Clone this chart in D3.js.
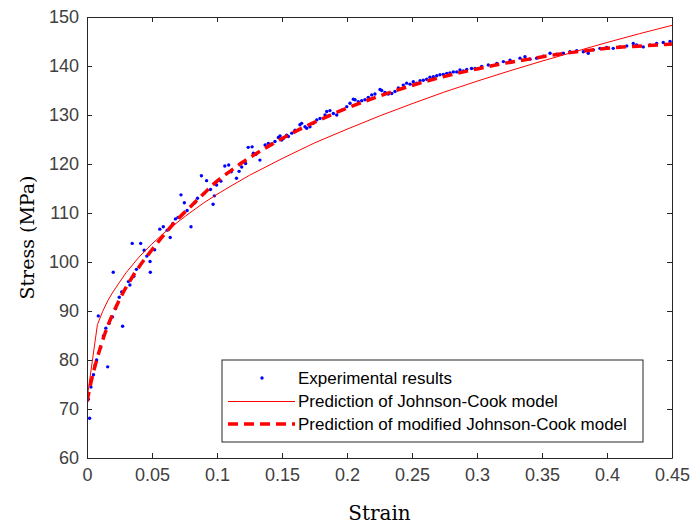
<!DOCTYPE html>
<html>
<head>
<meta charset="utf-8">
<script src="https://cdn.jsdelivr.net/npm/d3@7"></script>
<style>
  html, body { margin: 0; padding: 0; background: #fff; }
  svg { display: block; }
</style>
</head>
<body>
<svg id="chart" width="693" height="529"></svg>
<script>
// ---- Data ----
const xTicks = [0, 0.05, 0.1, 0.15, 0.2, 0.25, 0.3, 0.35, 0.4, 0.45];
const xTickLabels = ["0", "0.05", "0.1", "0.15", "0.2", "0.25", "0.3", "0.35", "0.4", "0.45"];
const yTicks = [60, 70, 80, 90, 100, 110, 120, 130, 140, 150];
const yTickLabels = ["60", "70", "80", "90", "100", "110", "120", "130", "140", "150"];

const expStrain = [
  0.001, 0.002, 0.003, 0.005, 0.0062, 0.0074, 0.0087, 0.0105, 0.0126, 0.0145, 0.0159, 0.017,
  0.0196, 0.0202, 0.022, 0.0248, 0.0267, 0.0274, 0.0318, 0.033, 0.0348, 0.036, 0.038, 0.0413,
  0.044, 0.046, 0.0485, 0.0487, 0.052, 0.056, 0.0587, 0.0617, 0.064, 0.066, 0.068, 0.070,
  0.0723, 0.0749, 0.077, 0.080, 0.083, 0.085, 0.088, 0.090, 0.092, 0.095, 0.097, 0.098,
  0.0997, 0.103, 0.106, 0.109, 0.111, 0.115, 0.117, 0.119, 0.122, 0.124, 0.127, 0.128,
  0.130, 0.133, 0.137, 0.1395, 0.142, 0.1446, 0.1472, 0.1485, 0.1498, 0.151, 0.1536, 0.1549,
  0.1575, 0.160, 0.1638, 0.1651, 0.1677, 0.169, 0.1715, 0.1741, 0.1767, 0.1792, 0.1831, 0.1844,
  0.1869, 0.1895, 0.1921, 0.1959, 0.1998, 0.2023, 0.2049, 0.2062, 0.2087, 0.2113, 0.2138, 0.2164,
  0.219, 0.2215, 0.2254, 0.2267, 0.2292, 0.2318, 0.2344, 0.2369, 0.2395, 0.2433, 0.2459, 0.2485,
  0.251, 0.2536, 0.2562, 0.2587, 0.2613, 0.2638, 0.2664, 0.269, 0.2715, 0.2741, 0.2767, 0.2792,
  0.2818, 0.2844, 0.2869, 0.2895, 0.2921, 0.2958, 0.2985, 0.3036, 0.3087, 0.3152, 0.3203, 0.3254,
  0.3331, 0.3369, 0.3408, 0.3459, 0.351, 0.3562, 0.3613, 0.3664, 0.3715, 0.3767, 0.3818, 0.3856,
  0.3895, 0.3946, 0.3998, 0.4048, 0.41, 0.4152, 0.4202, 0.4228, 0.4279, 0.4331, 0.4382, 0.4433,
  0.4485
];
const expStress = [
  72.0, 68.1, 74.5, 77.0, 79.0, 80.0, 89.0, 82.5, 84.9, 86.5, 78.6, 87.5,
  88.8, 97.9, 90.5, 92.8, 93.9, 86.9, 96.0, 95.3, 103.8, 97.1, 98.5, 103.8,
  102.4, 101.2, 100.1, 97.9, 102.5, 106.7, 107.2, 106.5, 105.0, 107.8, 108.8, 109.1,
  113.7, 112.1, 110.5, 107.2, 112.1, 113.0, 117.6, 114.0, 116.6, 114.8, 111.8, 113.5,
  115.7, 116.5, 119.6, 119.8, 118.4, 117.1, 118.5, 119.4, 120.1, 123.4, 123.5, 122.2,
  122.0, 120.8, 123.9, 124.2, 124.1, 124.6, 125.4, 125.7, 124.9, 125.2, 125.9, 125.6,
  126.3, 126.9, 128.0, 128.3, 127.6, 127.3, 127.6, 128.3, 129.0, 129.3, 130.0, 130.7,
  130.9, 130.3, 130.0, 131.0, 131.7, 132.4, 133.2, 133.1, 132.7, 132.9, 133.1, 133.6,
  134.1, 134.3, 135.2, 135.0, 134.6, 134.3, 134.4, 134.8, 135.5, 136.1, 136.5, 136.3,
  136.8, 136.5, 137.0, 137.1, 137.3, 137.7, 137.8, 138.0, 138.2, 138.3, 138.5, 138.6,
  138.8, 138.8, 139.2, 139.0, 139.3, 139.5, 139.5, 139.9, 140.2, 140.5, 140.9, 141.2,
  141.6, 141.9, 141.4, 141.6, 142.0, 142.6, 142.4, 142.6, 142.9, 143.1, 142.9, 142.6,
  143.3, 143.6, 143.8, 143.6, 143.9, 144.1, 144.6, 144.3, 143.9, 144.3, 144.6, 144.8,
  145.0
];

const jcStrain = [0, 0.008, 0.012, 0.016, 0.02, 0.03, 0.04, 0.05, 0.06, 0.07, 0.08, 0.09, 0.1, 0.11,
  0.125, 0.15, 0.175, 0.2, 0.225, 0.25, 0.275, 0.3, 0.325, 0.35, 0.375, 0.4, 0.425, 0.45];
const jcStress = [72.0, 87.2, 89.9, 92.1, 93.9, 97.8, 101.0, 103.7, 106.1, 108.2, 110.2, 112.1, 113.8, 115.4,
  117.7, 121.1, 124.3, 127.1, 129.8, 132.3, 134.7, 136.9, 139.0, 141.0, 142.9, 144.8, 146.6, 148.3];

const modStrain = [0, 0.004, 0.008, 0.012, 0.016, 0.02, 0.025, 0.03, 0.035, 0.04, 0.05, 0.06, 0.07,
  0.08, 0.09, 0.1, 0.11, 0.12, 0.13, 0.14, 0.15, 0.16, 0.17, 0.18, 0.19, 0.2, 0.22, 0.24, 0.26,
  0.28, 0.3, 0.32, 0.34, 0.36, 0.38, 0.4, 0.42, 0.44, 0.45];
const modStress = [71.5, 76.5, 80.5, 84.0, 87.0, 89.5, 92.3, 94.8, 97.0, 99.0, 102.5, 105.8, 108.8,
  111.4, 114.0, 116.5, 118.5, 120.4, 122.1, 123.7, 125.2, 126.6, 127.9, 129.1, 130.3, 131.4, 133.4, 135.2, 136.8,
  138.2, 139.4, 140.5, 141.4, 142.3, 143.0, 143.6, 144.0, 144.3, 144.5];

const legendLabels = ["Experimental results", "Prediction of Johnson-Cook model", "Prediction of modified Johnson-Cook model"];
const xLabel = "Strain";
const yLabel = "Stress (MPa)";

// ---- Layout ----
const svg = d3.select("#chart");
const L = 87, R = 672, T = 17, B = 458;
const x = d3.scaleLinear().domain([0, 0.45]).range([L, R]);
const y = d3.scaleLinear().domain([60, 150]).range([B, T]);
const axisColor = "#262626";
const tickFont = "'Liberation Sans', Arial, sans-serif";

svg.append("rect").attr("x", L).attr("y", T).attr("width", R - L).attr("height", B - T).attr("fill", "#fff");

svg.append("clipPath").attr("id", "clip").append("rect")
  .attr("x", L).attr("y", T).attr("width", R - L).attr("height", B - T);

const plot = svg.append("g").attr("clip-path", "url(#clip)");

// experimental dots
const expData = expStrain.map((s, i) => ({ s, v: expStress[i] }));
plot.selectAll("circle.exp").data(expData).enter().append("circle")
  .attr("class", "exp")
  .attr("cx", d => x(d.s)).attr("cy", d => y(d.v)).attr("r", 1.7)
  .attr("fill", "#0000ff");

// JC line
const jcData = jcStrain.map((s, i) => ({ s, v: jcStress[i] }));
plot.append("path").datum(jcData).attr("d", d3.line().x(d => x(d.s)).y(d => y(d.v)))
  .attr("fill", "none").attr("stroke", "#ff0000").attr("stroke-width", 1);

// Modified JC line
const modData = modStrain.map((s, i) => ({ s, v: modStress[i] }));
plot.append("path").datum(modData).attr("d", d3.line().x(d => x(d.s)).y(d => y(d.v)).curve(d3.curveMonotoneX))
  .attr("fill", "none").attr("stroke", "#ff0000").attr("stroke-width", 3.5)
  .attr("stroke-dasharray", "10,6");

// ---- Axes ----
const xAxisB = d3.axisBottom(x).tickValues(xTicks).tickFormat((d, i) => xTickLabels[i]).tickSizeInner(-5).tickSizeOuter(0).tickPadding(10);
const xAxisT = d3.axisTop(x).tickValues(xTicks).tickFormat("").tickSizeInner(-5).tickSizeOuter(0);
const yAxisL = d3.axisLeft(y).tickValues(yTicks).tickFormat((d, i) => yTickLabels[i]).tickSizeInner(-5).tickSizeOuter(0).tickPadding(8);
const yAxisR = d3.axisRight(y).tickValues(yTicks).tickFormat("").tickSizeInner(-5).tickSizeOuter(0);

function style(g) {
  g.select(".domain").attr("stroke", axisColor).attr("stroke-width", 1);
  g.selectAll(".tick line").attr("stroke", axisColor);
  g.selectAll(".tick text").attr("fill", "#404040").attr("font-family", tickFont).attr("font-size", 18);
}
svg.append("g").attr("transform", `translate(0,${B})`).call(xAxisB).call(style);
svg.append("g").attr("transform", `translate(0,${T})`).call(xAxisT).call(style);
svg.append("g").attr("transform", `translate(${L},0)`).call(yAxisL).call(style);
svg.append("g").attr("transform", `translate(${R},0)`).call(yAxisR).call(style);

// axis labels
svg.append("text").attr("x", (L + R) / 2).attr("y", 520).attr("text-anchor", "middle")
  .attr("font-family", "'DejaVu Serif', serif").attr("font-size", 20).attr("fill", "#000").text(xLabel);
svg.append("text").attr("transform", `translate(34,${(T + B) / 2}) rotate(-90)`).attr("text-anchor", "middle")
  .attr("font-family", "'DejaVu Serif', serif").attr("font-size", 19).attr("fill", "#000").text(yLabel);

// ---- Legend ----
const lg = svg.append("g");
lg.append("rect").attr("x", 222).attr("y", 360).attr("width", 421).attr("height", 82)
  .attr("fill", "#fff").attr("stroke", axisColor).attr("stroke-width", 1);
const rowY = [378, 401.5, 424];
lg.append("circle").attr("cx", 262).attr("cy", rowY[0]).attr("r", 1.7).attr("fill", "#0000ff");
lg.append("line").attr("x1", 228).attr("x2", 295).attr("y1", rowY[1]).attr("y2", rowY[1])
  .attr("stroke", "#ff0000").attr("stroke-width", 1);
lg.append("line").attr("x1", 228).attr("x2", 295).attr("y1", rowY[2]).attr("y2", rowY[2])
  .attr("stroke", "#ff0000").attr("stroke-width", 3.5).attr("stroke-dasharray", "10,6");
legendLabels.forEach((t, i) => {
  lg.append("text").attr("x", 298).attr("y", rowY[i]).attr("dy", "0.35em")
    .attr("font-family", tickFont).attr("font-size", 17).attr("fill", "#000").text(t);
});
</script>
</body>
</html>
